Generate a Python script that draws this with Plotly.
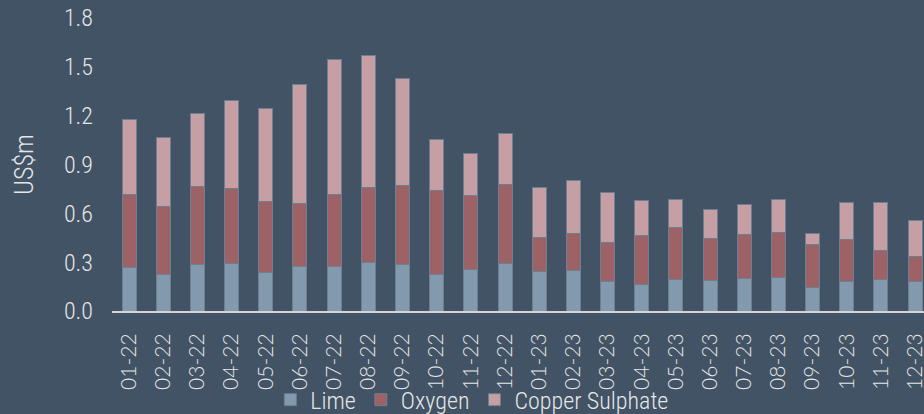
import plotly.graph_objects as go

months = ["01-22","02-22","03-22","04-22","05-22","06-22","07-22","08-22","09-22","10-22","11-22","12-22",
          "01-23","02-23","03-23","04-23","05-23","06-23","07-23","08-23","09-23","10-23","11-23","12-23"]
lime = [0.269,0.226,0.286,0.292,0.238,0.275,0.275,0.298,0.286,0.226,0.255,0.294,
        0.242,0.251,0.179,0.160,0.195,0.189,0.201,0.208,0.146,0.179,0.193,0.179]
oxygen_top = [0.715,0.645,0.764,0.750,0.670,0.660,0.713,0.760,0.771,0.740,0.709,0.777,
              0.450,0.477,0.419,0.462,0.512,0.444,0.470,0.483,0.407,0.442,0.374,0.337]
total = [1.179,1.068,1.212,1.296,1.247,1.393,1.545,1.572,1.430,1.056,0.970,1.091,
         0.760,0.804,0.731,0.676,0.686,0.623,0.655,0.686,0.475,0.666,0.668,0.555]
oxygen = [round(o - l, 3) for o, l in zip(oxygen_top, lime)]
copper = [round(t - o, 3) for t, o in zip(total, oxygen_top)]

BG = "#415365"
TXT = "#e6e6e6"
COND = "Roboto Condensed, Liberation Sans, sans-serif"
LIGHT = "Lato, Liberation Sans, sans-serif"

fig = go.Figure()
for name, vals, col in [("Lime", lime, "#8399ae"), ("Oxygen", oxygen, "#9c6266"), ("Copper Sulphate", copper, "#c59fa3")]:
    fig.add_trace(go.Bar(x=list(range(len(months))), y=vals, name=name,
                         marker=dict(color=col, line=dict(color="#6d7f91", width=1))))

fig.update_layout(
    barmode="stack", bargap=0.59,
    width=924, height=414,
    paper_bgcolor=BG, plot_bgcolor=BG,
    margin=dict(l=112, r=0, t=18, b=103, autoexpand=False),
    font=dict(family=COND, color=TXT, size=24, weight=300),
    showlegend=True,
    legend=dict(orientation="h", x=0.195, xanchor="left", y=-0.304, yanchor="middle",
                font=dict(family=COND, size=24, color=TXT, weight=300), traceorder="normal",
                itemwidth=30, bgcolor="rgba(0,0,0,0)"),
    xaxis=dict(range=[-0.5, 23.26], tickmode="array", tickvals=list(range(len(months))), ticktext=months,
               tickangle=-90, tickfont=dict(family=LIGHT, size=21, color=TXT, weight=300),
               showgrid=False, zeroline=False, showline=True, linecolor="#d4d4d4", linewidth=2,
               ticks="", ticklabelstandoff=12, automargin=False, ticklabeloverflow="allow"),
    yaxis=dict(range=[0, 1.8], dtick=0.3, tickformat=".1f", showgrid=False, zeroline=False,
               showline=False, ticks="", ticklabelstandoff=18, automargin=False,
               tickfont=dict(family=COND, size=24, color=TXT, weight=300),
               title=dict(text="US$m", font=dict(family=COND, size=26, color=TXT, weight=300), standoff=22)),
)

fig.write_html("out.html", config={"displayModeBar": False},
               post_script="document.body.style.margin='0';document.body.style.background='%s';" % BG)
